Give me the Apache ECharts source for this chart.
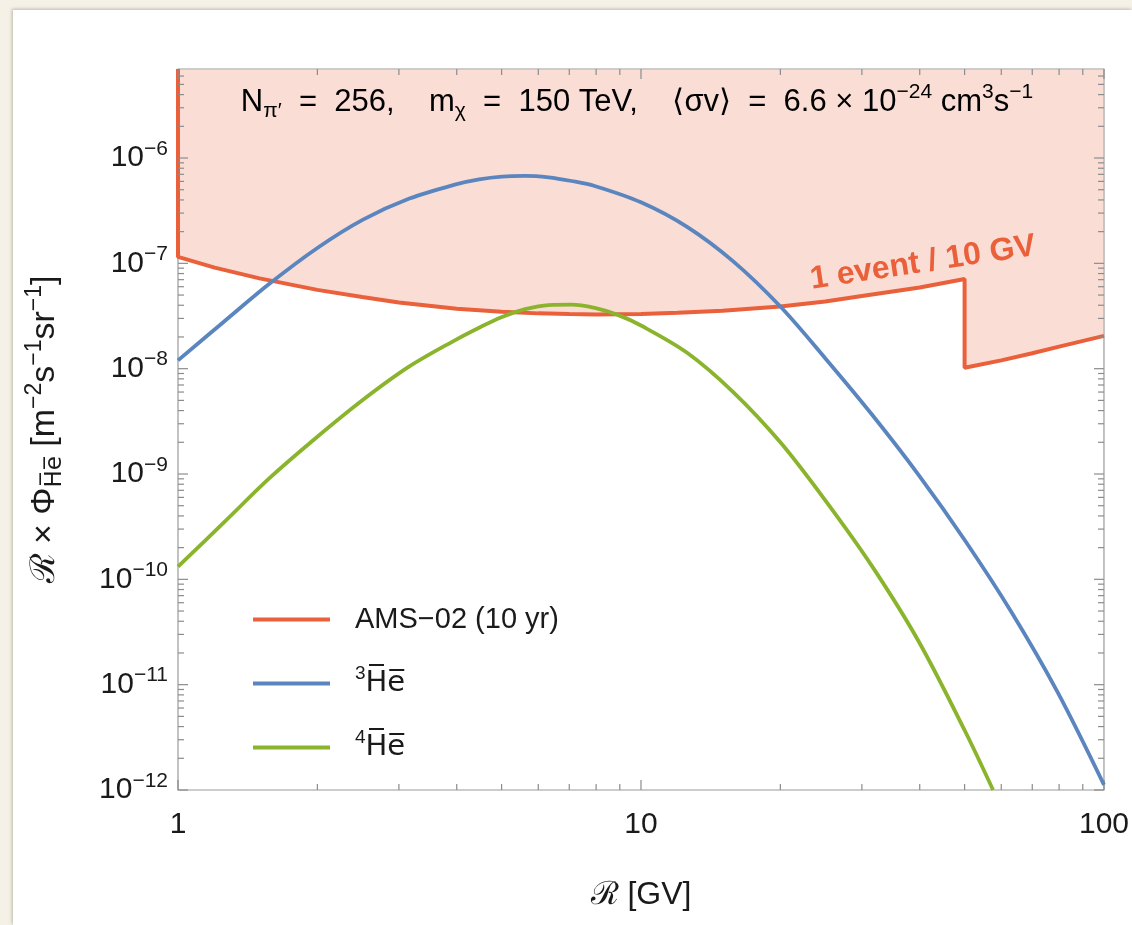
<!DOCTYPE html>
<html>
<head>
<meta charset="utf-8">
<title>Antihelium flux</title>
<script src="https://cdn.jsdelivr.net/npm/echarts@6/dist/echarts.min.js"></script>
<style>
  html, body { margin: 0; padding: 0; }
  body { width: 1132px; height: 925px; background: #f5f1e6; position: relative; overflow: hidden; }
  #main { position: absolute; left: 13px; top: 10px; width: 1119px; height: 915px; background: #fff;
          box-shadow: -1px -1px 3px rgba(90, 80, 60, 0.35); }
</style>
</head>
<body>
<div id="main"></div>
<script>
// axis ranges
var xRange = [1, 100];
var yRange = [1e-12, 7e-6];

// AMS-02 (10 yr) sensitivity, 1 event / 10 GV (starts with the vertical edge at R = 1)
var amsR    = [1, 1, 1.2, 1.5, 2, 2.5, 3, 4, 5, 6, 7, 8, 10, 12, 15, 20, 25, 30, 40, 50, 50, 60, 70, 80, 100];
var amsFlux = [7e-6, 1.15e-7, 9.1e-8, 7.2e-8, 5.6e-8, 4.8e-8, 4.25e-8, 3.7e-8, 3.47e-8, 3.35e-8, 3.3e-8, 3.27e-8,
               3.3e-8, 3.4e-8, 3.55e-8, 3.9e-8, 4.35e-8, 4.9e-8, 5.9e-8, 7.1e-8, 1.02e-8, 1.2e-8, 1.4e-8, 1.62e-8, 2.05e-8];

// 3He-bar flux
var he3R    = [1, 1.26, 1.58, 2, 2.51, 3.16, 3.98, 4.47, 5.01, 5.62, 6.31, 7.08, 7.94, 10, 12.6, 15.8, 20, 25.1,
               31.6, 39.8, 50.1, 63.1, 79.4, 100];
var he3Flux = [1.2e-8, 2.82e-8, 6.46e-8, 1.4e-7, 2.6e-7, 4.12e-7, 5.62e-7, 6.28e-7, 6.67e-7, 6.76e-7, 6.55e-7, 6.05e-7,
               5.43e-7, 3.8e-7, 2.21e-7, 1.05e-7, 3.89e-8, 1.23e-8, 3.63e-9, 9.77e-10, 2.34e-10, 4.9e-11, 8.5e-12, 1.12e-12];

// 4He-bar flux
var he4R    = [1, 1.26, 1.58, 2, 2.51, 3.16, 3.98, 4.47, 5.01, 5.62, 6.31, 7.08, 7.94, 8.91, 10, 12.6, 15.8, 20, 25.1,
               31.6, 39.8, 50.1, 57.6];
var he4Flux = [1.32e-10, 3.51e-10, 9.23e-10, 2.26e-9, 5.07e-9, 1.05e-8, 1.88e-8, 2.45e-8, 3.1e-8, 3.67e-8, 4.02e-8,
               4.05e-8, 3.77e-8, 3.24e-8, 2.57e-8, 1.41e-8, 6.03e-9, 2.0e-9, 5.5e-10, 1.32e-10, 2.57e-11, 3.63e-12, 1e-12];

// tick positions
var yDecades = [-12, -11, -10, -9, -8, -7, -6];
var xDecades = [0, 1];
var minorMults = [2, 3, 4, 5, 6, 7, 8, 9];

var colors = {
  ams: '#e9603a',
  amsFill: 'rgba(246, 190, 174, 0.5)',
  he3: '#5a85bf',
  he4: '#8ab42b',
  frame: '#9a9a9a',
  text: '#1a1a1a'
};
var fontFamily = '"Liberation Sans", Arial, Helvetica, sans-serif';
var overHe = 'H\u0305e\u0305';

function zip(a, b) {
  return a.map(function (v, i) { return [v, b[i]]; });
}

// tick marks for the frame (majors at decades, minors at 2..9)
var tickMarks = [];
yDecades.forEach(function (e) {
  tickMarks.push({ axis: 'y', v: Math.pow(10, e), len: 10 });
  minorMults.forEach(function (m) {
    var v = m * Math.pow(10, e);
    if (v < yRange[1]) tickMarks.push({ axis: 'y', v: v, len: 6 });
  });
});
xDecades.forEach(function (e) {
  tickMarks.push({ axis: 'x', v: Math.pow(10, e), len: 10 });
  minorMults.forEach(function (m) {
    tickMarks.push({ axis: 'x', v: m * Math.pow(10, e), len: 6 });
  });
});
tickMarks.push({ axis: 'x', v: 100, len: 10 });

function supRich(big, small) {
  var lh = Math.round(big * 1.3), slh = Math.round(small * 1.05);
  return {
    b: { fontSize: big, lineHeight: lh, fontFamily: fontFamily, color: colors.text },
    s: { fontSize: small, lineHeight: slh, verticalAlign: 'top', fontFamily: fontFamily, color: colors.text },
    d: { fontSize: small, lineHeight: slh, verticalAlign: 'bottom', fontFamily: fontFamily, color: colors.text },
    o: { fontSize: big, lineHeight: lh, fontFamily: '"DejaVu Sans", sans-serif', color: colors.text },
    od: { fontSize: small, lineHeight: slh, verticalAlign: 'bottom', fontFamily: '"DejaVu Sans", sans-serif', color: colors.text }
  };
}

var chart = echarts.init(document.getElementById('main'));

chart.setOption({
  animation: false,
  backgroundColor: '#fff',
  grid: {
    left: 165, right: 26, top: 59, bottom: 135,
    show: true, borderColor: colors.frame, borderWidth: 1.2, backgroundColor: 'transparent'
  },
  xAxis: {
    type: 'log', logBase: 10, min: xRange[0], max: xRange[1], interval: 1,
    axisLine: { show: false }, axisTick: { show: false }, splitLine: { show: false },
    axisLabel: { fontSize: 30, margin: 20, color: colors.text, fontFamily: fontFamily,
      formatter: function (v) { return String(Math.round(v)); } },
    name: '{b|\u211B [GV]}',
    nameLocation: 'middle', nameGap: 84,
    nameTextStyle: { rich: supRich(32, 21) }
  },
  yAxis: {
    type: 'log', logBase: 10, min: yRange[0], max: yRange[1], interval: 1,
    axisLine: { show: false }, axisTick: { show: false }, splitLine: { show: false },
    axisLabel: {
      margin: 10, showMaxLabel: false,
      formatter: function (v) {
        var e = Math.log10(v), r = Math.round(e);
        if (Math.abs(e - r) > 1e-6) return '';
        return '{b|10}{s|' + String(r).replace('-', '\u2212') + '}';
      },
      rich: supRich(30, 21)
    },
    name: '{b|\u211B \u00D7 \u03A6}{od|' + overHe + '}{b| [m}{s|\u22122}{b|s}{s|\u22121}{b|sr}{s|\u22121}{b|]}',
    nameLocation: 'middle', nameRotate: 90, nameGap: 111,
    nameTextStyle: { rich: supRich(34, 23) }
  },
  legend: {
    data: [
      { name: 'AMS', icon: 'rect' },
      { name: 'He3', icon: 'rect' },
      { name: 'He4', icon: 'rect' }
    ],
    orient: 'vertical', left: 235, top: 590,
    itemWidth: 77, itemHeight: 4, itemGap: 30.5,
    selectedMode: false,
    formatter: function (name) {
      if (name === 'AMS') return '{b|AMS\u221202 (10 yr)}';
      if (name === 'He3') return '{s|3}{o|' + overHe + '}';
      return '{s|4}{o|' + overHe + '}';
    },
    textStyle: { padding: [0, 0, 0, 20], rich: supRich(29, 19) }
  },
  graphic: [
    {
      type: 'text', x: 624, y: 92, z: 100,
      style: {
        text: '{b|N}{d|\u03C0\u2032}{b|  =  256,    m}{d|\u03C7}{b|  =  150 TeV,    \u27E8\u03C3v\u27E9  =  6.6 \u00D7 10}{s|\u221224}{b| cm}{s|3}{b|s}{s|\u22121}',
        align: 'center', verticalAlign: 'middle',
        rich: supRich(31, 21)
      }
    },
    {
      type: 'text', x: 910, y: 253, rotation: 0.15, z: 100,
      style: {
        text: '1 event / 10 GV',
        align: 'center', verticalAlign: 'middle',
        font: 'bold 32px ' + fontFamily,
        fill: colors.ams
      }
    }
  ],
  series: [
    {
      name: 'AMS', type: 'line', data: zip(amsR, amsFlux),
      showSymbol: false, symbol: 'none', smooth: false,
      lineStyle: { color: colors.ams, width: 4 },
      itemStyle: { color: colors.ams },
      areaStyle: { origin: 'end', color: colors.amsFill, opacity: 1 },
      z: 2
    },
    {
      name: 'ticks', type: 'custom', silent: true, clip: false, z: 3,
      data: tickMarks.map(function (t) { return t.axis === 'y' ? [xRange[0], t.v] : [t.v, yRange[0]]; }),
      renderItem: function (params, api) {
        var t = tickMarks[params.dataIndex];
        var style = { stroke: '#8c8c8c', lineWidth: 1.2 };
        var a, b;
        if (t.axis === 'y') {
          a = api.coord([xRange[0], t.v]);
          b = api.coord([xRange[1], t.v]);
          return { type: 'group', children: [
            { type: 'line', shape: { x1: a[0], y1: a[1], x2: a[0] + t.len, y2: a[1] }, style: style },
            { type: 'line', shape: { x1: b[0], y1: b[1], x2: b[0] - t.len, y2: b[1] }, style: style }
          ] };
        }
        a = api.coord([t.v, yRange[0]]);
        b = api.coord([t.v, yRange[1]]);
        return { type: 'group', children: [
          { type: 'line', shape: { x1: a[0], y1: a[1], x2: a[0], y2: a[1] - t.len }, style: style },
          { type: 'line', shape: { x1: b[0], y1: b[1], x2: b[0], y2: b[1] + t.len }, style: style }
        ] };
      }
    },
    {
      name: 'He3', type: 'line', data: zip(he3R, he3Flux),
      showSymbol: false, symbol: 'none', smooth: 0.33,
      lineStyle: { color: colors.he3, width: 3.8 },
      itemStyle: { color: colors.he3 },
      z: 4
    },
    {
      name: 'He4', type: 'line', data: zip(he4R, he4Flux),
      showSymbol: false, symbol: 'none', smooth: 0.33,
      lineStyle: { color: colors.he4, width: 3.8 },
      itemStyle: { color: colors.he4 },
      z: 4
    }
  ]
});
</script>
</body>
</html>
